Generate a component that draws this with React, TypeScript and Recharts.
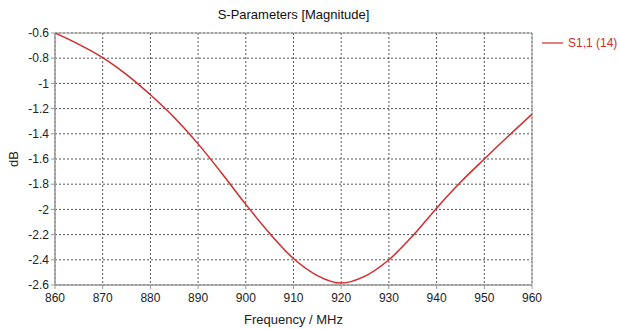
import { LineChart, Line, XAxis, YAxis, CartesianGrid, ReferenceArea } from 'recharts';

const FREQ = [860, 865, 870, 875, 880, 885, 890, 895, 900, 905, 910, 915, 920, 925, 930, 935, 940, 945, 950, 955, 960];
const S11 = [-0.6, -0.69, -0.795, -0.93, -1.09, -1.27, -1.48, -1.715, -1.96, -2.19, -2.39, -2.525, -2.585, -2.53, -2.4, -2.21, -1.99, -1.785, -1.6, -1.42, -1.245];
const X_TICKS = [860, 870, 880, 890, 900, 910, 920, 930, 940, 950, 960];
const Y_TICKS = [-2.6, -2.4, -2.2, -2, -1.8, -1.6, -1.4, -1.2, -1, -0.8, -0.6];

const RED = '#d42a2a';
const FONT = '"Liberation Sans", Arial, sans-serif';

const data = FREQ.map((f, i) => ({ f, s11: S11[i] }));

export default function App() {
  return (
    <div style={{ position: 'absolute', left: 0, top: 0, width: 620, height: 329, background: '#fff', fontFamily: FONT }}>
      <div style={{ position: 'absolute', left: 55, width: 477, top: 7, textAlign: 'center', fontSize: 13, color: '#111' }}>
        S-Parameters [Magnitude]
      </div>
      <div style={{ position: 'absolute', left: 542, top: 36, display: 'flex', alignItems: 'center', color: RED, fontSize: 12 }}>
        <svg width={22} height={14}><line x1={0} y1={7} x2={21} y2={7} stroke={RED} strokeWidth={1.2} /></svg>
        <span style={{ marginLeft: 4 }}>S1,1 (14)</span>
      </div>
      <LineChart width={620} height={329} data={data} margin={{ top: 33, right: 88, bottom: 0, left: 0 }}>
        <CartesianGrid stroke="#555" strokeDasharray="2 2" />
        <XAxis
          dataKey="f" type="number" domain={[860, 960]} ticks={X_TICKS} allowDataOverflow
          height={44} tickSize={4} tickMargin={4} stroke="#999"
          tick={{ fill: '#222', fontSize: 12, fontFamily: FONT }}
          label={{ value: 'Frequency / MHz', position: 'insideBottom', offset: 5, fill: '#222', fontSize: 13, fontFamily: FONT }}
        />
        <YAxis
          type="number" domain={[-2.6, -0.6]} ticks={Y_TICKS} allowDataOverflow
          width={55} tickSize={4} tickMargin={2} stroke="#999"
          tick={{ fill: '#222', fontSize: 12, fontFamily: FONT }}
          label={{
            content: ({ viewBox }: any) => (
              <text x={viewBox.x + 13} y={viewBox.y + viewBox.height / 2} transform={`rotate(-90 ${viewBox.x + 13} ${viewBox.y + viewBox.height / 2})`}
                textAnchor="middle" dominantBaseline="central" fill="#222" fontSize={13} fontFamily={FONT}>dB</text>
            ),
          }}
        />
        <ReferenceArea x1={860} x2={960} y1={-2.6} y2={-0.6} fill="none" stroke="#999" strokeWidth={1} />
        <Line type="monotone" dataKey="s11" stroke={RED} strokeWidth={1.5} dot={false} isAnimationActive={false} />
      </LineChart>
    </div>
  );
}
